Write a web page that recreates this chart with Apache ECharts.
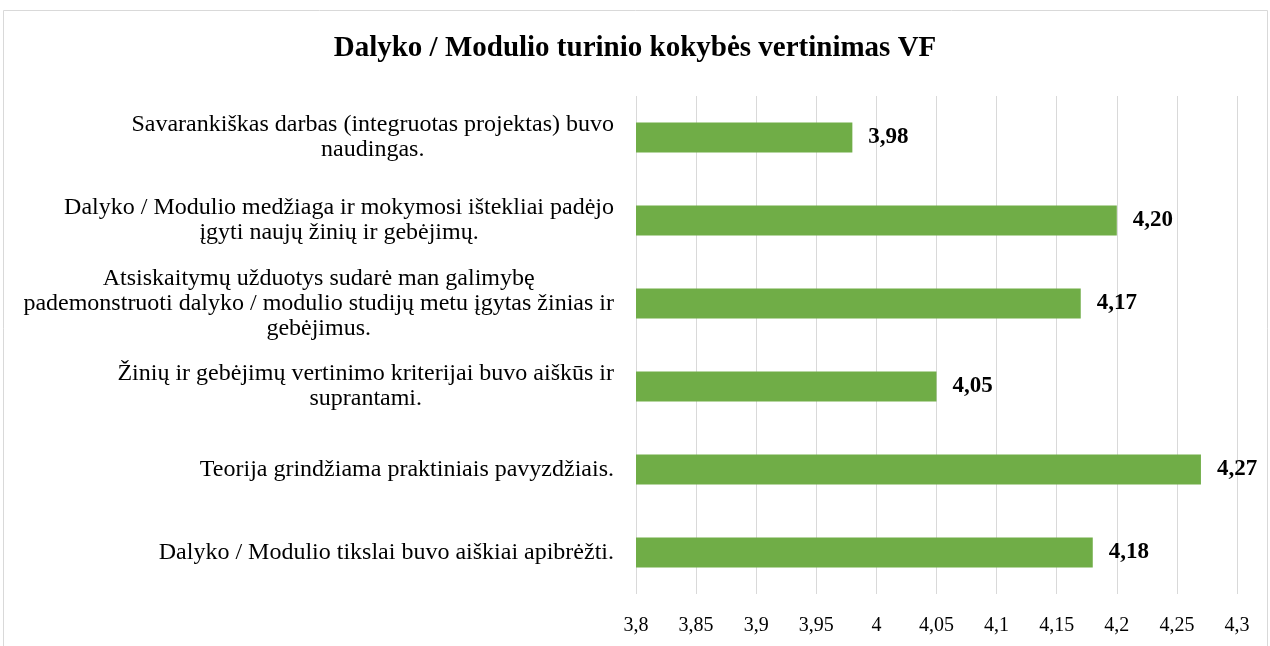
<!DOCTYPE html>
<html><head><meta charset="utf-8">
<script src="https://cdn.jsdelivr.net/npm/echarts@6/dist/echarts.min.js"></script>
<style>html,body{margin:0;padding:0;background:#fff}#c{width:1270px;height:646px}</style>
</head><body><div id="c"></div>
<script>
const title = "Dalyko / Modulio turinio kokybės vertinimas VF";
const categories = [
  "Savarankiškas darbas (integruotas projektas) buvo\nnaudingas.",
  "Dalyko / Modulio medžiaga ir mokymosi ištekliai padėjo\nįgyti naujų žinių ir gebėjimų.",
  "Atsiskaitymų užduotys sudarė man galimybę\npademonstruoti dalyko / modulio studijų metu įgytas žinias ir\ngebėjimus.",
  "Žinių ir gebėjimų vertinimo kriterijai buvo aiškūs ir\nsuprantami.",
  "Teorija grindžiama praktiniais pavyzdžiais.",
  "Dalyko / Modulio tikslai buvo aiškiai apibrėžti."
];
const values = [3.98, 4.20, 4.17, 4.05, 4.27, 4.18];
const axisMin = 3.8, axisMax = 4.3, axisStep = 0.05;

const serif = "'Liberation Serif','Times New Roman',serif";
const catFont = 24;
// centred multi-line labels whose right edge sits at the axis: right padding = block width
const mctx = document.createElement('canvas').getContext('2d');
mctx.font = catFont + 'px ' + serif;
const catData = categories.map(c => {
  const w = Math.max(...c.split('\n').map(l => mctx.measureText(l).width));
  return {value: c, textStyle: {align: 'center', padding: [0, w, 0, 0]}};
});

const chart = echarts.init(document.getElementById('c'));
chart.setOption({
  animation: false,
  backgroundColor: '#fff',
  graphic: [{type:'rect', shape:{x:3.5,y:10.5,width:1264,height:660}, style:{fill:'none', stroke:'#d9d9d9', lineWidth:1}, silent:true}],
  title: {text: title, left: 'center', top: 29, textStyle:{fontFamily: serif, fontWeight:'bold', fontSize:29, color:'#000'}},
  grid: {left: 636, right: 33, top: 96, bottom: 52, containLabel: false},
  xAxis: {
    type:'value', min: axisMin, max: axisMax, interval: axisStep,
    axisLine:{show:false}, axisTick:{show:false},
    splitLine:{show:true, lineStyle:{color:'#d9d9d9', width:1}},
    axisLabel:{fontFamily: serif, fontSize:20, color:'#000', margin:22,
      formatter: v => String(parseFloat(v.toFixed(2))).replace('.', ',')}
  },
  yAxis: {
    type:'category', data: catData, inverse: true,
    axisLine:{show:false}, axisTick:{show:false},
    axisLabel:{interval: 0, fontFamily: serif, fontSize:catFont, color:'#000', margin:22, lineHeight:25, align:'center'}
  },
  series: [{
    type:'bar', data: values, barWidth: 30,
    itemStyle:{color:'#70ad47'},
    label:{show:true, position:'right', distance:16, fontFamily: serif, fontWeight:'bold', fontSize:23, color:'#000',
      formatter: p => p.value.toFixed(2).replace('.', ',')}
  }]
});
</script></body></html>
